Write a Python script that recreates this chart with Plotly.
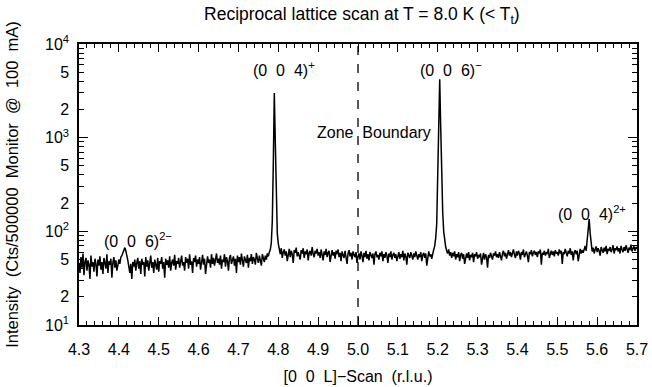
import plotly.graph_objects as go

# Scan positions L (r.l.u.), step 0.0025 from 4.300 to 5.700 (counts)
L_START = 4.300
L_STEP = 0.0025
counts = [
    46, 36, 53, 41, 58, 34, 47, 52, 38, 49, 44, 31, 55, 42, 47, 37, 51, 45, 33, 50,
    43, 54, 39, 47, 35, 52, 46, 40, 57, 36, 48, 44, 51, 32, 46, 53, 41, 49, 38, 47,
    50, 45, 53, 55, 58, 63, 67, 62, 56, 49, 42, 36, 45, 31, 47, 42, 50, 38, 46, 52,
    40, 48, 35, 51, 44, 47, 33, 53, 42, 49, 38, 46, 55, 41, 47, 36, 50, 44, 39, 52,
    37, 48, 45, 53, 40, 47, 32, 51, 44, 49, 41, 54, 38, 46, 50, 43, 56, 39, 48, 45,
    52, 41, 49, 55, 43, 47, 38, 53, 46, 51, 40, 57, 44, 48, 36, 52, 47, 55, 42, 50,
    45, 53, 39, 49, 56, 44, 51, 35, 48, 54, 46, 50, 41, 57, 45, 52, 43, 49, 58, 46,
    51, 44, 55, 40, 50, 47, 57, 42, 53, 48, 38, 52, 56, 45, 49, 54, 43, 51, 36, 55,
    47, 53, 44, 58, 49, 42, 54, 50, 46, 56, 41, 52, 48, 57, 45, 53, 50, 44, 59, 51,
    46, 55, 49, 43, 57, 51, 47, 55, 50, 58, 54, 60, 64, 75, 130, 520, 3000, 900, 210, 95,
    74, 63, 57, 66, 52, 60, 64, 55, 61, 48, 58, 65, 53, 62, 57, 46, 63, 59, 67, 54,
    60, 56, 50, 63, 58, 66, 52, 61, 57, 64, 49, 59, 62, 55, 68, 57, 53, 62, 58, 65,
    55, 60, 52, 64, 57, 49, 61, 56, 65, 53, 59, 62, 47, 58, 63, 55, 60, 51, 62, 57,
    64, 53, 59, 48, 61, 56, 52, 62, 55, 45, 58, 63, 54, 59, 50, 61, 56, 53, 60, 46,
    54, 58, 50, 61, 55, 47, 59, 53, 62, 51, 57, 49, 60, 55, 52, 58, 44, 57, 61, 53,
    56, 50, 59, 54, 61, 48, 57, 52, 60, 55, 46, 58, 53, 61, 50, 56, 59, 52, 57, 48,
    55, 60, 51, 57, 53, 62, 49, 58, 54, 44, 59, 56, 52, 60, 55, 50, 58, 53, 61, 56,
    50, 57, 53, 60, 48, 56, 59, 52, 58, 43, 55, 61, 54, 57, 51, 60, 64, 70, 85, 120,
    350, 1500, 4200, 1300, 380, 160, 100, 78, 68, 62, 58, 64, 55, 60, 52, 59, 54, 61, 50, 57,
    53, 60, 48, 56, 59, 51, 57, 45, 55, 58, 52, 60, 49, 56, 53, 59, 47, 57, 54, 60,
    51, 56, 53, 58, 44, 55, 59, 50, 57, 53, 41, 56, 52, 59, 54, 50, 58, 55, 61, 53,
    57, 52, 60, 55, 49, 58, 62, 54, 59, 51, 57, 63, 55, 60, 53, 58, 64, 56, 52, 61,
    55, 62, 58, 50, 60, 56, 64, 53, 59, 61, 55, 47, 60, 57, 63, 54, 59, 62, 56, 60,
    53, 61, 58, 64, 44, 59, 56, 62, 55, 60, 57, 65, 52, 59, 62, 56, 61, 54, 63, 58,
    60, 55, 64, 58, 62, 45, 60, 57, 65, 59, 54, 62, 58, 66, 56, 61, 49, 60, 63, 57,
    62, 48, 60, 65, 58, 63, 59, 66, 70, 62, 78, 100, 135, 95, 70, 61, 67, 58, 64, 69,
    60, 66, 62, 55, 68, 63, 59, 67, 61, 70, 57, 65, 62, 68, 60, 64, 71, 58, 66, 63,
    69, 61, 66, 58, 70, 64, 60, 68, 62, 71, 65, 59, 67, 63, 72, 61, 66, 69, 62, 68,
    65,
]
L = [round(L_START + i * L_STEP, 4) for i in range(len(counts))]

ZONE_BOUNDARY = 5.0
x_ticks = [4.3, 4.4, 4.5, 4.6, 4.7, 4.8, 4.9, 5.0, 5.1, 5.2, 5.3, 5.4, 5.5, 5.6, 5.7]
x_ticktext = ["4.3", "4.4", "4.5", "4.6", "4.7", "4.8", "4.9", "5.0", "5.1", "5.2",
              "5.3", "5.4", "5.5", "5.6", "5.7"]
y_labeled = [10, 20, 50, 100, 200, 500, 1000, 2000, 5000, 10000]
y_labeltext = ["10<sup>1</sup>", "2", "5", "10<sup>2</sup>", "2", "5",
               "10<sup>3</sup>", "2", "5", "10<sup>4</sup>"]
y_decades = [10, 100, 1000, 10000]
y_minor = [m * d for d in [10, 100, 1000] for m in (3, 4, 6, 7, 8, 9)]

labels = [
    ("(0  0  4)<sup>+</sup>", 4.814, 3.73),
    ("(0  0  6)<sup>−</sup>", 5.234, 3.73),
    ("Zone  Boundary", 5.04, 3.06),
    ("(0  0  6)<sup>2−</sup>", 4.448, 1.91),
    ("(0  0  4)<sup>2+</sup>", 5.588, 2.20),
]

FONT = "Liberation Sans, Arial, sans-serif"

fig = go.Figure()
fig.add_trace(go.Scatter(x=L, y=counts, mode="lines",
                         line=dict(color="black", width=1.5), showlegend=False,
                         hoverinfo="skip"))
fig.add_trace(go.Scatter(x=[], y=[], yaxis="y2", showlegend=False))

fig.add_shape(type="line", xref="x", yref="paper", x0=ZONE_BOUNDARY, x1=ZONE_BOUNDARY,
              y0=0, y1=1, line=dict(color="black", width=1.3, dash="dash"))

for txt, xv, yv in labels:
    fig.add_annotation(x=xv, y=yv, xref="x", yref="y", text=txt, showarrow=False,
                       font=dict(family=FONT, size=16, color="black"),
                       xanchor="center", yanchor="middle")

fig.update_layout(
    width=652, height=387,
    margin=dict(l=79, r=15, t=44, b=62),
    paper_bgcolor="white", plot_bgcolor="white",
    font=dict(family=FONT, size=16, color="black"),
    title=dict(text="Reciprocal lattice scan at T = 8.0 K (< T<sub>t</sub>)",
               x=0.555, xanchor="center", y=0.963, yanchor="middle",
               font=dict(size=17.5)),
    xaxis=dict(range=[4.3, 5.7], tickvals=x_ticks, ticktext=x_ticktext,
               ticks="inside", ticklen=8, tickwidth=1.3, tickcolor="black",
               ticklabelstandoff=9, automargin=False,
               minor=dict(dtick=0.02, tick0=4.3, ticks="inside", ticklen=4,
                          tickwidth=1.1, tickcolor="black"),
               showline=True, linecolor="black", linewidth=1.5, mirror="ticks",
               showgrid=False, zeroline=False,
               tickfont=dict(size=16),
               title=dict(text="[0  0  L]−Scan  (r.l.u.)", standoff=14,
                          font=dict(size=16))),
    yaxis=dict(type="log", range=[1, 4], tickvals=y_labeled, ticktext=y_labeltext,
               ticks="inside", ticklen=5, tickwidth=1.3, tickcolor="black",
               ticklabelstandoff=5, automargin=False,
               minor=dict(tickvals=y_minor, ticks="inside", ticklen=5,
                          tickwidth=1.1, tickcolor="black"),
               showline=True, linecolor="black", linewidth=1.5, mirror="ticks",
               showgrid=False, zeroline=False,
               tickfont=dict(size=16),
               title=dict(text="Intensity  (Cts/500000  Monitor  @  100  mA)", standoff=22,
                          font=dict(size=16.5))),
    yaxis2=dict(type="log", range=[1, 4], overlaying="y", anchor="x", side="left",
                tickvals=y_decades, showticklabels=False, ticks="inside", ticklen=9,
                tickwidth=1.3, tickcolor="black", mirror="ticks", showline=False,
                showgrid=False, zeroline=False, automargin=False),
)

fig.write_html("out.html")
